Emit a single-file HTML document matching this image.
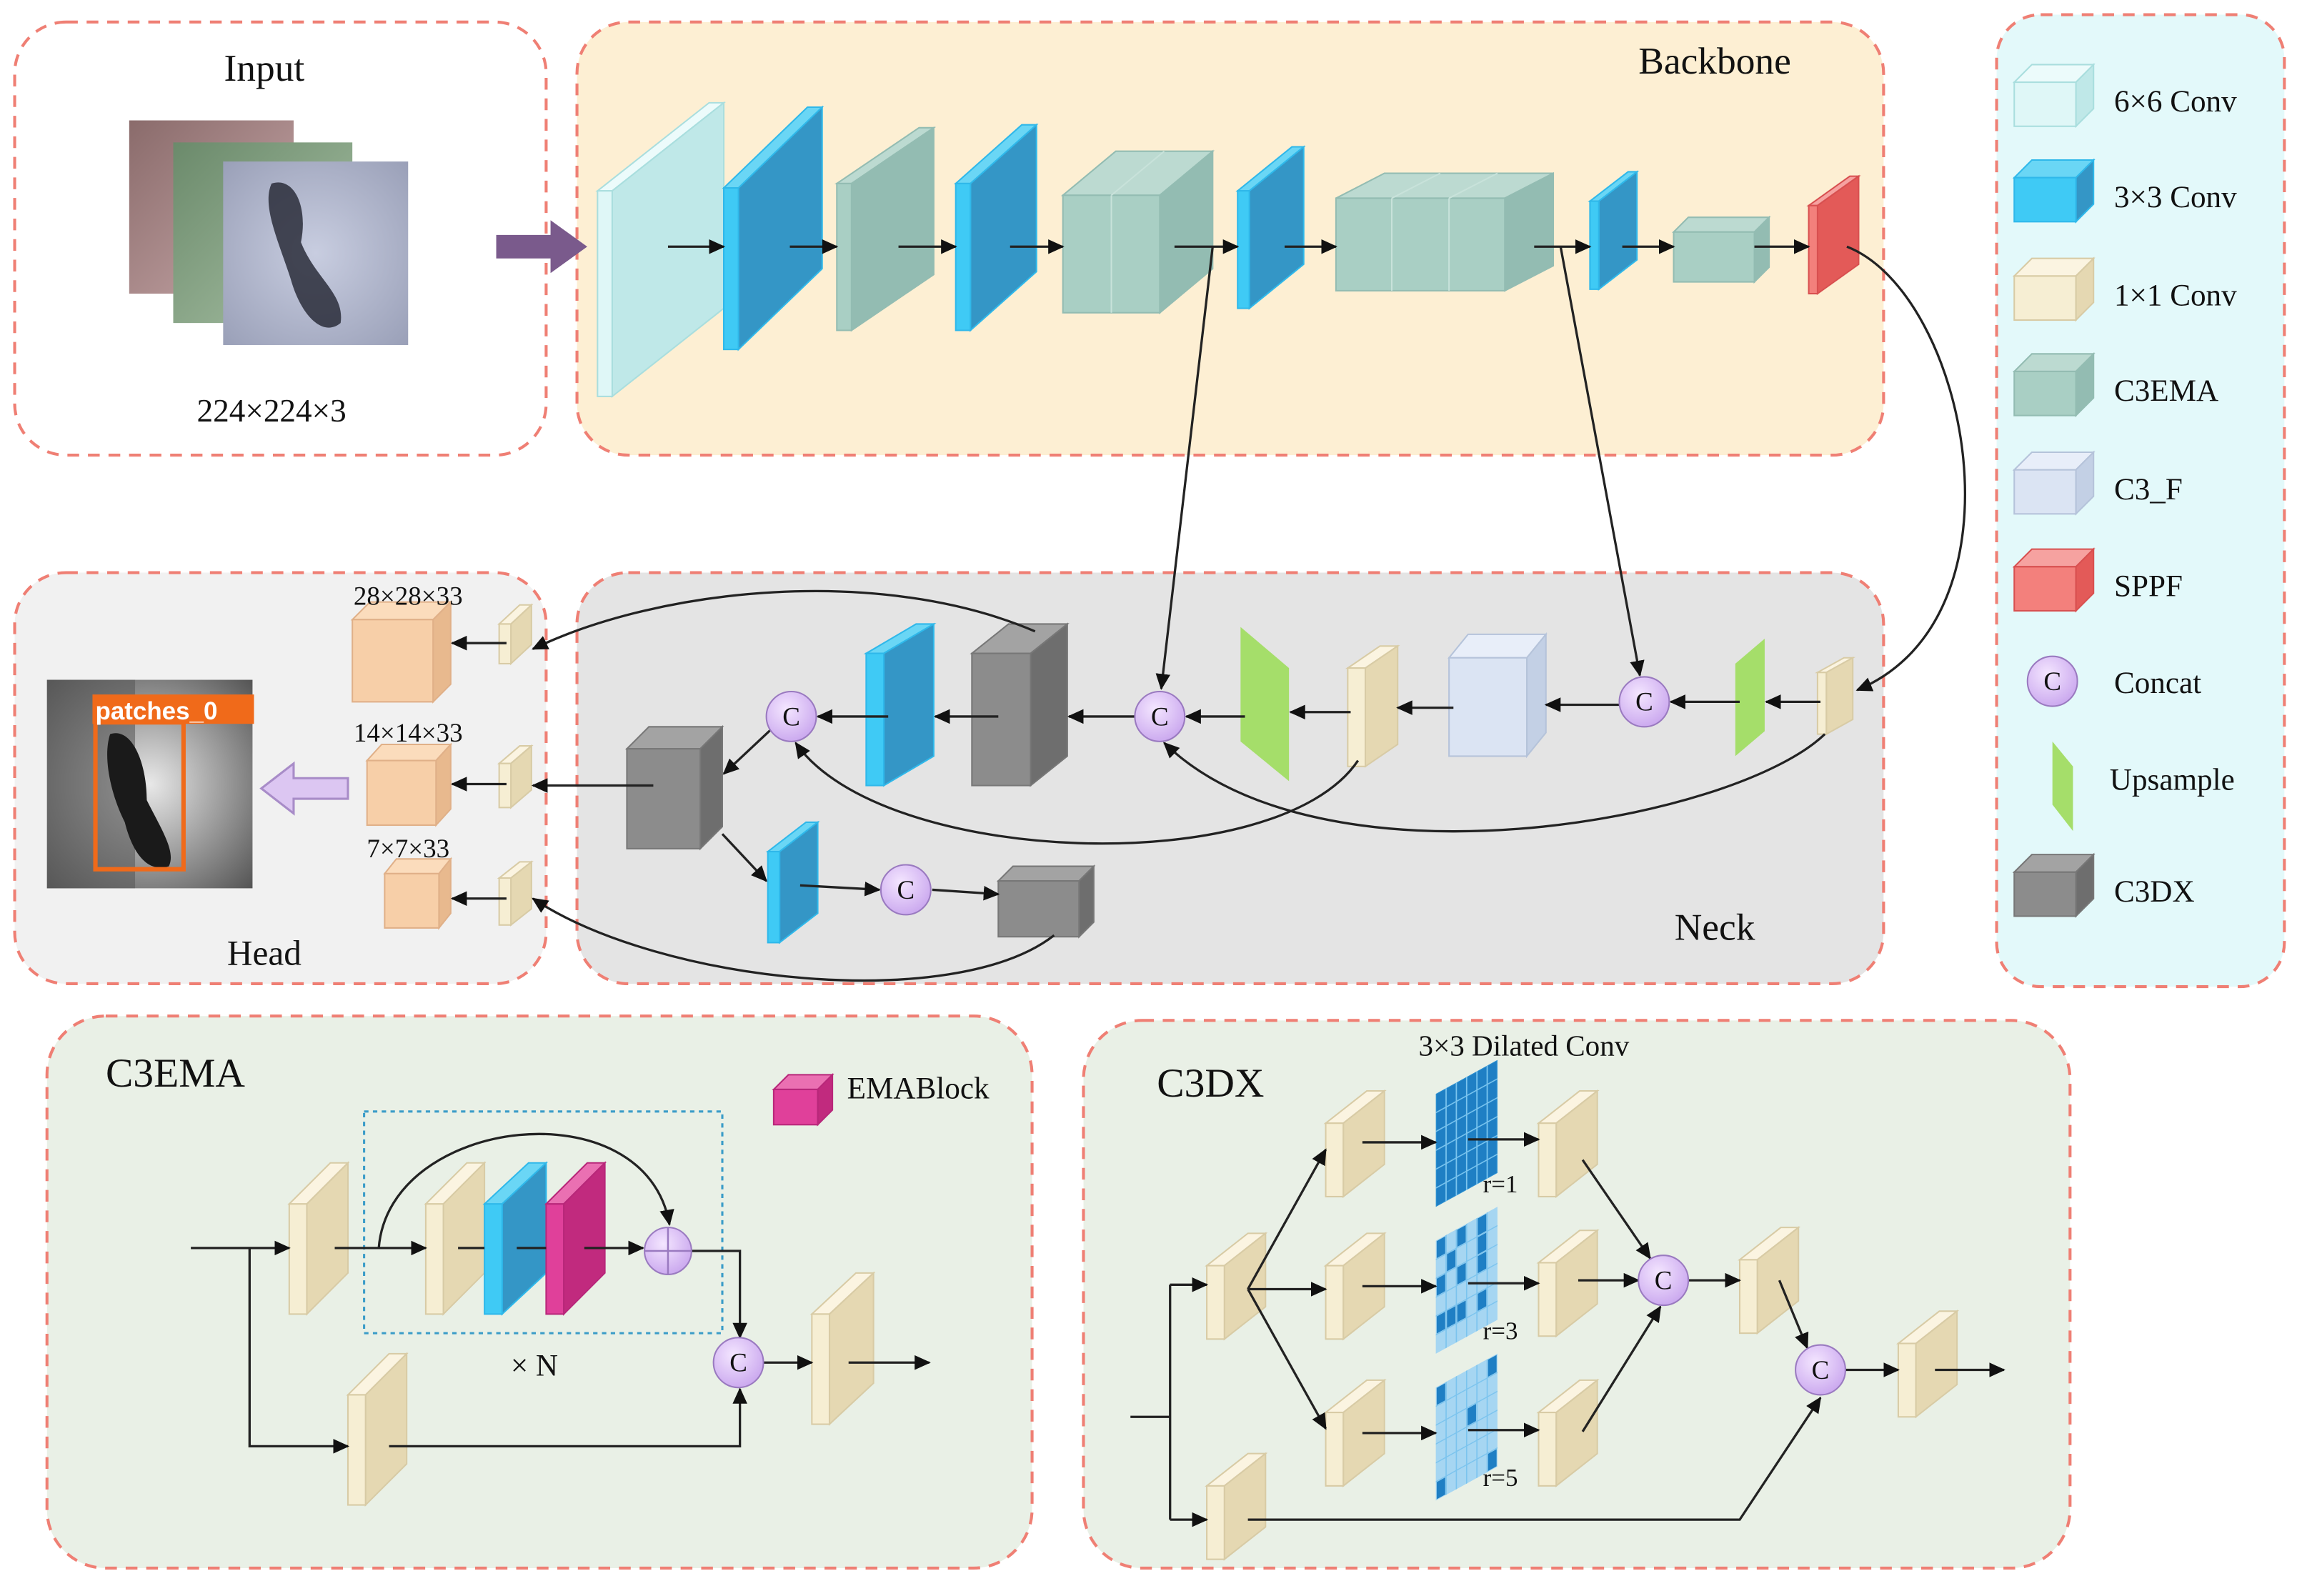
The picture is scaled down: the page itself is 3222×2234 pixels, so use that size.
<!DOCTYPE html>
<html><head><meta charset="utf-8"><style>
html,body{margin:0;padding:0;background:#fff;}
svg{display:block;}
text{font-family:"Liberation Serif",serif;fill:#111;}
</style></head><body>
<svg id="s" width="3222" height="2234" viewBox="0 0 1568 1087" preserveAspectRatio="none" xmlns="http://www.w3.org/2000/svg">
<defs>
<marker id="ar" markerUnits="userSpaceOnUse" markerWidth="12" markerHeight="10" refX="10" refY="5" orient="auto"><path d="M0,0 L11,5 L0,10 Z" fill="#111"/></marker>
<radialGradient id="cg" cx="0.4" cy="0.35" r="0.7"><stop offset="0" stop-color="#f4e6ff"/><stop offset="1" stop-color="#c9a6ee"/></radialGradient>
<linearGradient id="g1" x1="0" y1="0" x2="1" y2="1"><stop offset="0" stop-color="#8a6b6b"/><stop offset="1" stop-color="#c9a9aa"/></linearGradient>
<linearGradient id="g2" x1="0" y1="0" x2="1" y2="1"><stop offset="0" stop-color="#6b8a6b"/><stop offset="1" stop-color="#a9c2a6"/></linearGradient>
<radialGradient id="g3" cx="0.5" cy="0.5" r="0.7"><stop offset="0" stop-color="#c8cde0"/><stop offset="1" stop-color="#9aa0b8"/></radialGradient>
<radialGradient id="g4" cx="0.5" cy="0.5" r="0.7"><stop offset="0" stop-color="#e8e8e8"/><stop offset="1" stop-color="#555"/></radialGradient>
</defs>
<!-- panels -->
<g fill="none" stroke="#ef7f74" stroke-width="2" stroke-dasharray="8,6">
<rect x="10" y="15" width="362" height="295" rx="35" fill="#ffffff"/>
<rect x="393" y="15" width="890" height="295" rx="35" fill="#fdefd3"/>
<rect x="1360" y="10" width="196" height="662" rx="30" fill="#e3f9fa"/>
<rect x="10" y="390" width="362" height="280" rx="35" fill="#f1f1f1"/>
<rect x="393" y="390" width="890" height="280" rx="35" fill="#e4e4e4"/>
<rect x="32" y="692" width="671" height="376" rx="40" fill="#e9f0e6"/>
<rect x="738" y="695" width="672" height="373" rx="40" fill="#e9f0e6"/>
</g>
<!-- input images -->
<rect x="88" y="82" width="112" height="118" fill="url(#g1)"/>
<rect x="118" y="97" width="122" height="123" fill="url(#g2)"/>
<rect x="152" y="110" width="126" height="125" fill="url(#g3)"/>
<path d="M185,125 C200,120 210,140 205,165 C215,190 235,200 232,220 C220,230 205,215 198,190 C190,165 178,140 185,125 Z" fill="#2a2d3a" opacity="0.85"/>
<path d="M338,160 L375,160 L375,150 L400,168 L375,186 L375,176 L338,176 Z" fill="#7a5a8c"/>
<!-- head image -->
<rect x="32" y="463" width="140" height="142" fill="url(#g4)"/>
<rect x="32" y="463" width="60" height="142" fill="#5a5a5a" opacity="0.6"/>
<path d="M75,500 C90,495 100,520 100,545 C110,565 120,580 115,590 C100,595 90,580 85,560 C75,540 70,515 75,500 Z" fill="#1a1a1a"/>
<rect x="65" y="492" width="60" height="100" fill="none" stroke="#f06a1a" stroke-width="3"/>
<rect x="63" y="473" width="110" height="20" fill="#f06a1a"/>
<text x="65" y="490" font-family="Liberation Sans,sans-serif" font-weight="bold" font-size="17" style="fill:#fff;font-family:'Liberation Sans',sans-serif">patches_0</text>
<path d="M237,530 L200,530 L200,520 L178,537 L200,554 L200,544 L237,544 Z" fill="#dcc6f2" stroke="#a88cc8" stroke-width="1.5"/>
<!-- dashed N box -->
<rect x="248" y="757" width="244" height="151" fill="none" stroke="#3a9cc8" stroke-width="1.5" stroke-dasharray="3,3"/>
<g id="shapes"></g>
<g id="lines" fill="none" stroke="#222" stroke-width="1.6">
<!-- backbone arrows -->
<path d="M455,168 H493" marker-end="url(#ar)"/>
<path d="M538,168 H570" marker-end="url(#ar)"/>
<path d="M612,168 H651" marker-end="url(#ar)"/>
<path d="M688,168 H724" marker-end="url(#ar)"/>
<path d="M800,168 H843" marker-end="url(#ar)"/>
<path d="M875,168 H910" marker-end="url(#ar)"/>
<path d="M1045,168 H1083" marker-end="url(#ar)"/>
<path d="M1105,168 H1140" marker-end="url(#ar)"/>
<path d="M1195,168 H1232" marker-end="url(#ar)"/>
<path d="M826,168 L791,469" marker-end="url(#ar)"/>
<path d="M1063,168 L1117,460" marker-end="url(#ar)"/>
<path d="M1258,168 C1340,200 1385,420 1265,470" marker-end="url(#ar)"/>
<!-- neck -->
<path d="M1240,478 H1203" marker-end="url(#ar)"/>
<path d="M1185,478 H1138" marker-end="url(#ar)"/>
<path d="M1103,480 H1053" marker-end="url(#ar)"/>
<path d="M990,482 H952" marker-end="url(#ar)"/>
<path d="M920,485 H879" marker-end="url(#ar)"/>
<path d="M848,488 H808" marker-end="url(#ar)"/>
<path d="M773,488 H728" marker-end="url(#ar)"/>
<path d="M680,488 H637" marker-end="url(#ar)"/>
<path d="M605,488 H557" marker-end="url(#ar)"/>
<path d="M1243,500 C1180,560 900,610 793,506" marker-end="url(#ar)"/>
<path d="M925,518 C870,600 600,590 542,506" marker-end="url(#ar)"/>
<path d="M525,497 L493,527" marker-end="url(#ar)"/>
<path d="M705,430 C600,385 450,400 363,442" marker-end="url(#ar)"/>
<path d="M445,535 H363" marker-end="url(#ar)"/>
<path d="M492,568 L522,600" marker-end="url(#ar)"/>
<path d="M545,603 L599,606" marker-end="url(#ar)"/>
<path d="M635,606 L680,609" marker-end="url(#ar)"/>
<path d="M718,637 C650,690 450,670 363,612" marker-end="url(#ar)"/>
<!-- head -->
<path d="M345,438 H308" marker-end="url(#ar)"/>
<path d="M345,534 H308" marker-end="url(#ar)"/>
<path d="M345,612 H308" marker-end="url(#ar)"/>
<!-- C3EMA -->
<path d="M130,850 H197" marker-end="url(#ar)"/>
<path d="M170,850 V985 H237" marker-end="url(#ar)"/>
<path d="M228,850 H290" marker-end="url(#ar)"/>
<path d="M258,850 C265,760 440,740 456,834" marker-end="url(#ar)"/>
<path d="M312,850 H330"/><path d="M352,850 H372"/>
<path d="M398,850 H438" marker-end="url(#ar)"/>
<path d="M471,852 H504 V911" marker-end="url(#ar)"/>
<path d="M265,985 H504 V946" marker-end="url(#ar)"/>
<path d="M520,928 H553" marker-end="url(#ar)"/>
<path d="M578,928 H633" marker-end="url(#ar)"/>
<!-- C3DX -->
<path d="M770,965 H797"/>
<path d="M797,875 V1035"/>
<path d="M797,875 H822" marker-end="url(#ar)"/>
<path d="M797,1035 H822" marker-end="url(#ar)"/>
<path d="M850,878 L903,783" marker-end="url(#ar)"/>
<path d="M850,878 H903" marker-end="url(#ar)"/>
<path d="M850,878 L903,973" marker-end="url(#ar)"/>
<path d="M928,778 H978" marker-end="url(#ar)"/>
<path d="M928,876 H978" marker-end="url(#ar)"/>
<path d="M928,976 H978" marker-end="url(#ar)"/>
<path d="M1000,776 H1048" marker-end="url(#ar)"/>
<path d="M1000,874 H1048" marker-end="url(#ar)"/>
<path d="M1000,974 H1048" marker-end="url(#ar)"/>
<path d="M1078,790 L1124,857" marker-end="url(#ar)"/>
<path d="M1075,872 H1116" marker-end="url(#ar)"/>
<path d="M1078,975 L1131,890" marker-end="url(#ar)"/>
<path d="M1150,872 H1185" marker-end="url(#ar)"/>
<path d="M1212,872 L1231,918" marker-end="url(#ar)"/>
<path d="M850,1035 H1185 L1240,952" marker-end="url(#ar)"/>
<path d="M1257,933 H1293" marker-end="url(#ar)"/>
<path d="M1318,933 H1365" marker-end="url(#ar)"/>
</g>
<g id="circ"></g>
<!-- texts -->
<g font-size="24">
<text x="180" y="55" text-anchor="middle" font-size="26">Input</text>
<text x="185" y="287" text-anchor="middle" font-size="22">224×224×3</text>
<text x="1168" y="50" text-anchor="middle" font-size="26">Backbone</text>
<text x="1168" y="640" text-anchor="middle" font-size="26">Neck</text>
<text x="180" y="657" text-anchor="middle" font-size="24">Head</text>
<text x="278" y="412" text-anchor="middle" font-size="18">28×28×33</text>
<text x="278" y="505" text-anchor="middle" font-size="18">14×14×33</text>
<text x="278" y="584" text-anchor="middle" font-size="18">7×7×33</text>
<text x="72" y="740" font-size="28">C3EMA</text>
<text x="577" y="748" font-size="21">EMABlock</text>
<text x="364" y="937" text-anchor="middle" font-size="21">× N</text>
<text x="788" y="747" font-size="28">C3DX</text>
<text x="1038" y="719" text-anchor="middle" font-size="20">3×3 Dilated Conv</text>
<text x="1022" y="812" text-anchor="middle" font-size="17">r=1</text>
<text x="1022" y="912" text-anchor="middle" font-size="17">r=3</text>
<text x="1022" y="1012" text-anchor="middle" font-size="17">r=5</text>
<g font-size="21">
<text x="1440" y="76">6×6 Conv</text>
<text x="1440" y="141">3×3 Conv</text>
<text x="1440" y="208">1×1 Conv</text>
<text x="1440" y="273">C3EMA</text>
<text x="1440" y="340">C3_F</text>
<text x="1440" y="406">SPPF</text>
<text x="1440" y="472">Concat</text>
<text x="1437" y="538">Upsample</text>
<text x="1440" y="614">C3DX</text>
</g>
<g font-size="18" text-anchor="middle">
<text x="1120" y="484">C</text><text x="790" y="494">C</text><text x="539" y="494">C</text><text x="617" y="612">C</text>
<text x="503" y="934">C</text><text x="1133" y="878">C</text><text x="1240" y="939">C</text><text x="1398" y="470">C</text>
</g>
</g>
<script>
(function(){
var NS="http://www.w3.org/2000/svg";
var S=document.getElementById('shapes');
function el(t,a,p){var e=document.createElementNS(NS,t);for(var k in a)e.setAttribute(k,a[k]);(p||S).appendChild(e);return e;}
var C={
c66:['#dff7f7','#ecfbfb','#bfe8e8','#a9dede'],
blue:['#3fcaf5','#6ad6f5','#3496c6','#2fb8ea'],
ema:['#a9cfc4','#bcdad1','#93bcb2','#93bcb2'],
cream:['#f6eed3','#fbf4e1','#e5d8b2','#d8cba5'],
c3f:['#dbe4f3','#e8eef9','#c3d0e5','#b5c3da'],
sppf:['#f3807c','#f6a2a0','#e35a58','#d85050'],
dx:['#8c8c8c','#a3a3a3','#6e6e6e','#777'],
org:['#f7cfa8','#fbdcbc','#e8b98e','#e0b088'],
mag:['#e0409a','#ea70b2','#c12a7e','#b8277a']};
function cube(x,y,w,h,dx,dy,c){var k=C[c];
el('polygon',{points:[x,y,x+dx,y-dy,x+w+dx,y-dy,x+w,y].join(','),fill:k[1],stroke:k[3],'stroke-width':1});
el('polygon',{points:[x+w,y,x+w+dx,y-dy,x+w+dx,y+h-dy,x+w,y+h].join(','),fill:k[2],stroke:k[3],'stroke-width':1});
el('rect',{x:x,y:y,width:w,height:h,fill:k[0],stroke:k[3],'stroke-width':1});}
function ln(a,b,c,d,col){el('line',{x1:a,y1:b,x2:c,y2:d,stroke:col,'stroke-width':1});}
// backbone
cube(407,130,10,140,76,60,'c66');
cube(493,128,10,110,57,55,'blue');
cube(570,125,10,100,56,38,'ema');
cube(651,125,10,100,45,40,'blue');
cube(724,133,66,80,36,30,'ema');ln(757,133,757,213,'#c8e2da');ln(757,133,793,103,'#c8e2da');
cube(843,130,8,80,37,30,'blue');
cube(910,135,115,63,33,17,'ema');ln(948,135,948,198,'#c8e2da');ln(987,135,987,198,'#c8e2da');ln(948,135,981,118,'#c8e2da');ln(987,135,1020,118,'#c8e2da');
cube(1083,137,6,60,26,20,'blue');
cube(1140,158,55,34,10,10,'ema');
cube(1232,140,6,60,28,20,'sppf');
// neck
cube(1238,458,6,42,18,10,'cream');
el('polygon',{points:'1182,452 1202,435 1202,498 1182,515',fill:'#a5de6a'});
cube(987,448,53,67,13,16,'c3f');
cube(918,455,12,67,22,15,'cream');
el('polygon',{points:'845,427 878,455 878,532 845,505',fill:'#a5de6a'});
cube(662,445,40,90,25,20,'dx');
cube(590,445,12,90,34,20,'blue');
cube(427,510,50,68,15,15,'dx');
cube(523,580,8,62,26,20,'blue');
cube(680,600,55,38,10,10,'dx');
// head
cube(340,425,8,27,14,13,'cream');
cube(340,520,8,30,14,12,'cream');
cube(340,598,8,32,14,11,'cream');
cube(240,422,55,56,12,12,'org');
cube(250,518,47,44,10,11,'org');
cube(262,595,37,37,8,10,'org');
// legend
var ly=[68,133,200,265,332,398];var lc=['c66','blue','cream','ema','c3f','sppf'];
for(var i=0;i<6;i++)cube(1372,ly[i]-12,42,30,12,12,lc[i]);
cube(1372,594,42,30,12,12,'dx');
el('polygon',{points:'1398,505 1412,522 1412,566 1398,548',fill:'#a5de6a'});
// C3EMA
cube(197,820,12,75,28,28,'cream');
cube(290,820,12,75,28,28,'cream');
cube(330,820,12,75,30,28,'blue');
cube(372,820,12,75,28,28,'mag');
cube(237,950,12,75,28,28,'cream');
cube(553,895,12,75,30,28,'cream');
cube(527,742,30,24,10,10,'mag');
// C3DX
var sl=[[822,862],[903,765],[903,862],[903,962],[1048,765],[1048,860],[1048,962],[1185,858],[1293,915],[822,1012]];
sl.forEach(function(p){cube(p[0],p[1],12,50,28,22,'cream');});
// grids
function grid(ox,oy,type){var g=el('g',{transform:'matrix(1,-0.55,0,1,'+ox+','+oy+')'});
var bg=type==1?'#2b8fd0':'#a6d6f2';
el('rect',{x:0,y:0,width:42,height:77,fill:bg},g);
var cw=7,ch=77/6;
for(var r=0;r<6;r++)for(var c=0;c<6;c++){var on=false;
if(type==1)on=true;if(type==3)on=(r%2==0&&c%2==0)||(r%3==1&&c%3==1);if(type==5)on=(r==0||r==5)&&(c==0||c==5)||(r==2&&c==3);
if(on)el('rect',{x:c*cw+0.6,y:r*ch+0.6,width:cw-1.2,height:ch-1.2,fill:'#1f7fc4'},g);}
for(var i=1;i<6;i++){el('line',{x1:i*cw,y1:0,x2:i*cw,y2:77,stroke:'#7cc4ee','stroke-width':0.8},g);el('line',{x1:0,y1:i*ch,x2:42,y2:i*ch,stroke:'#7cc4ee','stroke-width':0.8},g);}
}
grid(978,745,1);grid(978,845,3);grid(978,945,5);
// circles
var Cc=document.getElementById('circ');
[[1120,478],[790,488],[539,488],[617,606],[503,928],[1133,872],[1240,933],[1398,464]].forEach(function(p){el('circle',{cx:p[0],cy:p[1],r:17,fill:'url(#cg)',stroke:'#9a7ac0','stroke-width':1},Cc);});
el('circle',{cx:455,cy:852,r:16,fill:'url(#cg)',stroke:'#9a7ac0','stroke-width':1},Cc);
el('path',{d:'M439,852 H471 M455,836 V868',stroke:'#9a7ac0','stroke-width':1.2,fill:'none'},Cc);
})();
</script>
</svg>
</body></html>
